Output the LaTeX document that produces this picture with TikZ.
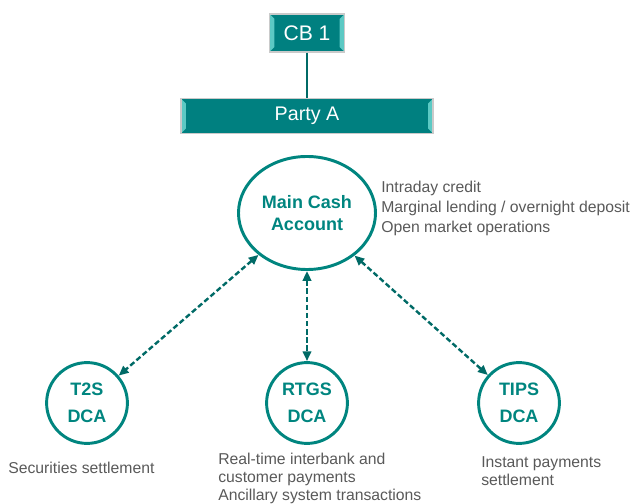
\documentclass[tikz,border=0pt]{standalone}
\usepackage{fontspec}
\setmainfont{Liberation Sans}
\usetikzlibrary{arrows.meta, shapes.geometric}
\definecolor{boxteal}{HTML}{008080}
\definecolor{bevelteal}{HTML}{5CC9C4}
\definecolor{rimgray}{HTML}{CACACA}
\definecolor{ringteal}{HTML}{00857F}
\definecolor{arrowteal}{HTML}{006A66}
\definecolor{notegray}{HTML}{595959}
\begin{document}
\begin{tikzpicture}[x=0.025cm, y=-0.025cm,
    box/.style = {draw=rimgray, line width=0.8pt, fill=boxteal, text=white, inner sep=0pt,
      path picture={
        \fill[bevelteal] (path picture bounding box.north west) -- ++(3.5pt,-3.5pt)
          -- ([shift={(3.5pt,3.5pt)}]path picture bounding box.south west)
          -- (path picture bounding box.south west) -- cycle;
        \fill[bevelteal] (path picture bounding box.north east) -- ++(-3.5pt,-3.5pt)
          -- ([shift={(-3.5pt,3.5pt)}]path picture bounding box.south east)
          -- (path picture bounding box.south east) -- cycle;}},
    account/.style = {draw=ringteal, line width=2.1pt, text=ringteal, align=center, inner sep=0pt},
    dca/.style = {account, circle, minimum size=2.02cm, font=\fontsize{12.8}{19}\selectfont\bfseries},
    note/.style = {text=notegray, align=left, inner sep=0pt, anchor=west},
    link/.style = {arrowteal, line width=1.7pt, dash pattern=on 3.8pt off 2pt,
      {Triangle[length=7pt,width=6pt]}-{Triangle[length=7pt,width=6pt]}}]
    \useasboundingbox (0,0) rectangle (632,504);

    % Gerarchia in alto
    \node[box, minimum width=1.875cm, minimum height=0.95cm, font=\fontsize{15}{18}\selectfont] (cb) at (307,33) {CB 1};
    \node[box, minimum width=6.3cm, minimum height=0.875cm, font=\fontsize{14}{17}\selectfont] (party) at (307,116) {Party A};
    \draw[arrowteal, line width=1.4pt] (cb) -- (party);

    % Conti
    \node[account, ellipse, minimum width=3.425cm, minimum height=2.825cm,
      font=\fontsize{12.8}{15.6}\selectfont\bfseries] (mca) at (307,213) {Main Cash\\Account};
    \node[dca] (t2s) at (87,403) {T2S\\DCA};
    \node[dca] (rtgs) at (307,403) {RTGS\\DCA};
    \node[dca] (tips) at (519,403) {TIPS\\DCA};

    \draw[link] (mca) -- (t2s);
    \draw[link] (mca) -- (rtgs);
    \draw[link] (mca) -- (tips);

    % Testi
    \node[note, font=\fontsize{11.2}{14.2}\selectfont] (mcanote) at (381,208)
      {Intraday credit\\Marginal lending / overnight deposit\\Open market operations};
    \node[note, font=\fontsize{11.2}{12.8}\selectfont] (t2snote) at (8,468) {Securities settlement};
    \node[note, font=\fontsize{11.2}{12.8}\selectfont] (rtgsnote) at (218,478)
      {Real-time interbank and\\customer payments\\Ancillary system transactions};
    \node[note, font=\fontsize{11.2}{12.8}\selectfont] (tipsnote) at (481,471)
      {Instant payments\\settlement};
\end{tikzpicture}
\end{document}
